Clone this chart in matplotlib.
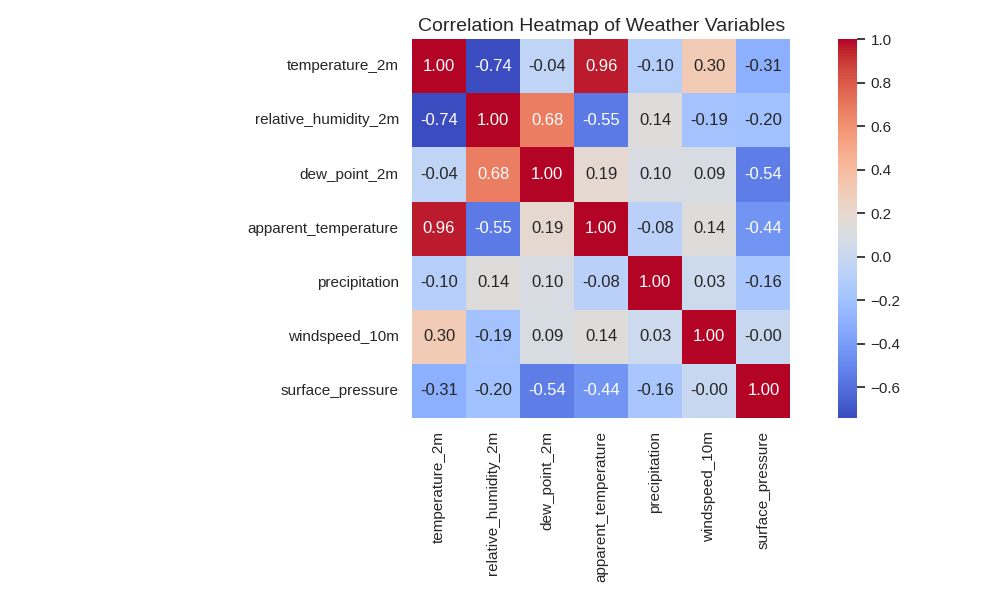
import matplotlib
matplotlib.use("Agg")
import matplotlib.pyplot as plt
import seaborn as sns
import numpy as np
import pandas as pd

variables = ["temperature_2m", "relative_humidity_2m", "dew_point_2m",
             "apparent_temperature", "precipitation", "windspeed_10m",
             "surface_pressure"]

row_temperature = [1.00, -0.74, -0.04, 0.96, -0.10, 0.30, -0.31]
row_humidity = [-0.74, 1.00, 0.68, -0.55, 0.14, -0.19, -0.20]
row_dew_point = [-0.04, 0.68, 1.00, 0.19, 0.10, 0.09, -0.54]
row_apparent = [0.96, -0.55, 0.19, 1.00, -0.08, 0.14, -0.44]
row_precip = [-0.10, 0.14, 0.10, -0.08, 1.00, 0.03, -0.16]
row_wind = [0.30, -0.19, 0.09, 0.14, 0.03, 1.00, -0.001]
row_pressure = [-0.31, -0.20, -0.54, -0.44, -0.16, -0.001, 1.00]

corr = pd.DataFrame([row_temperature, row_humidity, row_dew_point, row_apparent,
                     row_precip, row_wind, row_pressure],
                    index=variables, columns=variables)

sns.set_theme(style="white")
plt.rcParams['font.family'] = ['Liberation Sans', 'DejaVu Sans']

fig, ax = plt.subplots(figsize=(10, 6), dpi=100)
sns.heatmap(corr, annot=True, fmt=".2f", cmap="coolwarm", square=True, ax=ax,
            annot_kws={"size": 12})
ax.set_title("Correlation Heatmap of Weather Variables", fontsize=14)
plt.tight_layout()
fig.savefig("out.png", dpi=100)
